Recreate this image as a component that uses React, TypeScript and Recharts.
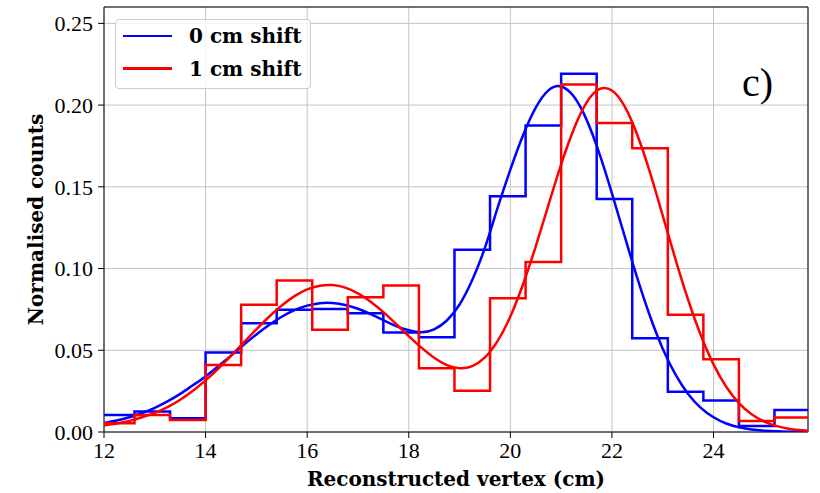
import React from 'react';
import { LineChart, Line, XAxis, YAxis, CartesianGrid, ReferenceArea, Label } from 'recharts';

// histogram bin edges (cm), 20 bins of 0.7 cm
const BIN_EDGES = [11.9, 12.6, 13.3, 14.0, 14.7, 15.4, 16.1, 16.8, 17.5, 18.2, 18.9, 19.6, 20.3, 21.0, 21.7, 22.4, 23.1, 23.8, 24.5, 25.2, 25.9];

// normalised counts per bin
const COUNTS_0CM = [0.0104, 0.0125, 0.0084, 0.0486, 0.0666, 0.0748, 0.0752, 0.0727, 0.0609, 0.0580, 0.1115, 0.1442, 0.1875, 0.2192, 0.1426, 0.0574, 0.0247, 0.0192, 0.0037, 0.0135];
const COUNTS_1CM = [0.0053, 0.0104, 0.0074, 0.0410, 0.0778, 0.0927, 0.0625, 0.0825, 0.0897, 0.0390, 0.0253, 0.0819, 0.1040, 0.2126, 0.1891, 0.1736, 0.0717, 0.0445, 0.0067, 0.0088];

// fitted curves, sampled along the vertex axis
const FIT_X = [
  12, 12.25, 12.5, 12.75, 13, 13.25, 13.5, 13.75, 14, 14.25, 14.5, 14.75, 15, 15.25, 15.5, 15.75,
  16, 16.25, 16.5, 16.75, 17, 17.25, 17.5, 17.75, 18, 18.25, 18.5, 18.75, 19, 19.25, 19.5, 19.75,
  20, 20.25, 20.5, 20.75, 21, 21.25, 21.5, 21.75, 22, 22.25, 22.5, 22.75, 23, 23.25, 23.5, 23.75,
  24, 24.25, 24.5, 24.75, 25, 25.25, 25.5, 25.75, 25.9,
];
const FIT_0CM = [
  0.0055, 0.0070, 0.0090, 0.0116, 0.0148, 0.0187, 0.0233, 0.0286, 0.0340, 0.0402, 0.0467, 0.0533, 0.0597, 0.0655, 0.0705, 0.0745,
  0.0773, 0.0788, 0.0789, 0.0777, 0.0754, 0.0721, 0.0684, 0.0648, 0.0622, 0.0610, 0.0628, 0.0682, 0.0780, 0.0930, 0.1128, 0.1372,
  0.1605, 0.1815, 0.1984, 0.2090, 0.2114, 0.2052, 0.1911, 0.1706, 0.1460, 0.1198, 0.0941, 0.0708, 0.0510, 0.0353, 0.0233, 0.0148,
  0.0090, 0.0052, 0.0029, 0.0015, 0.0008, 0.0004, 0.0002, 0.0001, 0.0001,
];
const FIT_1CM = [
  0.0040, 0.0052, 0.0068, 0.0090, 0.0117, 0.0152, 0.0197, 0.0252, 0.0316, 0.0388, 0.0466, 0.0547, 0.0628, 0.0705, 0.0774, 0.0831,
  0.0872, 0.0895, 0.0899, 0.0883, 0.0848, 0.0797, 0.0733, 0.0661, 0.0587, 0.0516, 0.0454, 0.0409, 0.0390, 0.0403, 0.0456, 0.0557,
  0.0707, 0.0904, 0.1136, 0.1389, 0.1637, 0.1854, 0.2015, 0.2097, 0.2089, 0.1992, 0.1817, 0.1587, 0.1324, 0.1058, 0.0809, 0.0592,
  0.0414, 0.0277, 0.0177, 0.0109, 0.0064, 0.0036, 0.0019, 0.0010, 0.0006,
];

const X_TICKS = [12, 14, 16, 18, 20, 22, 24];
const Y_TICKS = [0, 0.05, 0.1, 0.15, 0.2, 0.25];
const X_DOMAIN = [12, 25.86];
const Y_DOMAIN = [0, 0.26];

const SERIES = [
  { name: '0 cm shift', color: '#0000ff' },
  { name: '1 cm shift', color: '#ff0000' },
];

const SERIF = '"Liberation Serif", "DejaVu Serif", serif';
const BOLD_SERIF = '"DejaVu Serif", "Liberation Serif", serif';
const LW = 2.5;

// outline of a step histogram: up from zero at the first edge, down to zero at the last
function stepPoints(counts: number[]) {
  const pts = [{ x: BIN_EDGES[0], y: 0 }];
  counts.forEach((c, i) => pts.push({ x: BIN_EDGES[i], y: c }));
  pts.push({ x: BIN_EDGES[counts.length], y: counts[counts.length - 1] });
  pts.push({ x: BIN_EDGES[counts.length], y: 0 });
  return pts;
}

const fitPoints = (vals: number[]) => FIT_X.map((x, i) => ({ x, y: vals[i] }));

const hist0 = stepPoints(COUNTS_0CM);
const hist1 = stepPoints(COUNTS_1CM);
const fit0 = fitPoints(FIT_0CM);
const fit1 = fitPoints(FIT_1CM);

function LegendBox() {
  return (
    <div
      style={{
        position: 'absolute',
        left: 115,
        top: 19,
        width: 196,
        height: 70,
        boxSizing: 'border-box',
        border: '1px solid #cccccc',
        borderRadius: 4,
        background: 'rgba(255,255,255,0.8)',
      }}
    >
      {SERIES.map((s, i) => (
        <div
          key={s.name}
          style={{
            position: 'absolute',
            left: 7,
            top: i * 32.6,
            height: 32,
            display: 'flex',
            alignItems: 'center',
          }}
        >
          <span style={{ display: 'inline-block', width: 49, height: LW, background: s.color }} />
          <span
            style={{
              marginLeft: 17,
              fontFamily: BOLD_SERIF,
              fontWeight: 'bold',
              fontSize: 20,
              color: '#000',
              whiteSpace: 'nowrap',
            }}
          >
            {s.name}
          </span>
        </div>
      ))}
    </div>
  );
}

export default function App() {
  const tickStyle = { fill: '#000', fontSize: 22, fontFamily: SERIF };
  return (
    <div style={{ position: 'absolute', left: 0, top: 0, width: 820, height: 493, background: '#fff' }}>
      <LineChart width={820} height={493} margin={{ top: 7, right: 12, bottom: 31, left: 20 }}>
        <CartesianGrid stroke="#c4c4c4" strokeWidth={1} />
        <XAxis
          dataKey="x"
          type="number"
          domain={X_DOMAIN}
          allowDataOverflow
          ticks={X_TICKS}
          tick={tickStyle}
          tickLine={{ stroke: '#000' }}
          axisLine={false}
          tickSize={6}
          tickMargin={4}
          height={30}
        >
          <Label
            value="Reconstructed vertex (cm)"
            position="bottom"
            offset={10}
            style={{ fill: '#000', fontSize: 20, fontWeight: 'bold', fontFamily: BOLD_SERIF }}
          />
        </XAxis>
        <YAxis
          type="number"
          domain={Y_DOMAIN}
          allowDataOverflow
          ticks={Y_TICKS}
          tickFormatter={(v: number) => v.toFixed(2)}
          tick={tickStyle}
          tickLine={{ stroke: '#000' }}
          axisLine={false}
          tickSize={6}
          tickMargin={5}
          width={84}
        >
          <Label
            value="Normalised counts"
            angle={-90}
            position="insideLeft"
            offset={16}
            style={{ textAnchor: 'middle', fill: '#000', fontSize: 20, fontWeight: 'bold', fontFamily: BOLD_SERIF }}
          />
        </YAxis>
        <Line data={hist0} dataKey="y" type="stepAfter" stroke="#0000ff" strokeWidth={LW} dot={false} activeDot={false} isAnimationActive={false} />
        <Line data={fit0} dataKey="y" type="natural" stroke="#0000ff" strokeWidth={LW} dot={false} activeDot={false} isAnimationActive={false} />
        <Line data={hist1} dataKey="y" type="stepAfter" stroke="#ff0000" strokeWidth={LW} dot={false} activeDot={false} isAnimationActive={false} />
        <Line data={fit1} dataKey="y" type="natural" stroke="#ff0000" strokeWidth={LW} dot={false} activeDot={false} isAnimationActive={false} />
        <ReferenceArea x1={X_DOMAIN[0]} x2={X_DOMAIN[1]} y1={Y_DOMAIN[0]} y2={Y_DOMAIN[1]} fill="none" stroke="#000" strokeWidth={1} />
      </LineChart>
      <LegendBox />
      <div
        style={{
          position: 'absolute',
          left: 742,
          top: 63,
          fontFamily: SERIF,
          fontSize: 40,
          lineHeight: '40px',
          color: '#000',
        }}
      >
        c)
      </div>
    </div>
  );
}
